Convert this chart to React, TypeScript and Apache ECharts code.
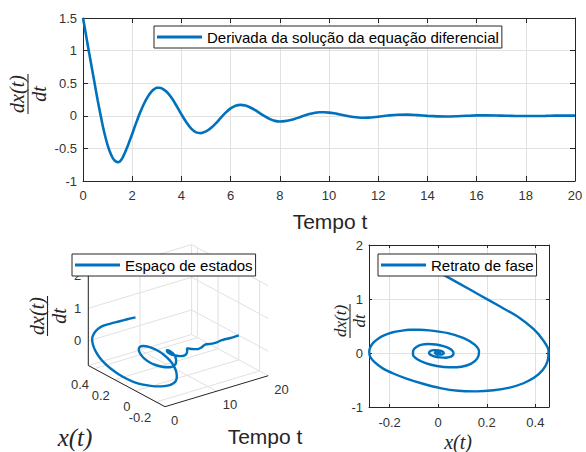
import React, { useEffect, useRef } from "react";
import * as echarts from "echarts";

// ---------------- data ----------------
const TIME = [
  0, 0.1, 0.2, 0.3, 0.4, 0.5, 0.6, 0.7, 0.8, 0.9, 1.0, 1.1, 1.2, 1.3, 1.4, 1.5,
  1.6, 1.7, 1.8, 1.9, 2.0, 2.1, 2.2, 2.3, 2.4, 2.5, 2.6, 2.7, 2.8, 2.9, 3.0, 3.1, 3.2,
  3.4, 3.6, 3.8, 4.0, 4.2, 4.4, 4.6, 4.8, 5.0, 5.2, 5.4, 5.6, 5.8, 6.0, 6.2, 6.4,
  6.6, 6.8, 7.0, 7.2, 7.4, 7.6, 7.8, 8.0, 8.2, 8.4, 8.6, 8.8, 9.0, 9.2, 9.4, 9.6,
  9.8, 10.0, 10.2, 10.4, 10.6, 10.8, 11.0, 11.2, 11.4, 11.6, 11.8, 12.0,
  12.4, 12.8, 13.2, 13.6, 14.0, 14.4, 14.8, 15.2, 15.6, 16.0, 16.4, 16.8, 17.2,
  17.6, 18.0, 18.4, 18.8, 19.2, 19.6, 20.0,
];

const DXDT = [
  1.5, 1.29, 1.07, 0.86, 0.65, 0.44, 0.23, 0.04, -0.15, -0.31, -0.45, -0.56, -0.64, -0.69, -0.71, -0.7,
  -0.65, -0.57, -0.48, -0.38, -0.28, -0.17, -0.07, 0.03, 0.12, 0.2, 0.27, 0.33, 0.38, 0.41, 0.43, 0.43, 0.42,
  0.368, 0.275, 0.154, 0.023, -0.099, -0.196, -0.254, -0.265, -0.24, -0.187, -0.115, -0.032, 0.048, 0.113, 0.155, 0.168,
  0.157, 0.128, 0.086, 0.038, -0.01, -0.051, -0.078, -0.087, -0.082, -0.069, -0.048, -0.023, 0.003, 0.027, 0.044, 0.054,
  0.054, 0.049, 0.038, 0.024, 0.009, -0.006, -0.019, -0.027, -0.03, -0.028, -0.023, -0.015,
  0.004, 0.017, 0.018, 0.01, -0.001, -0.009, -0.011, -0.007, 0.0, 0.006, 0.007, 0.005, 0.001,
  -0.003, -0.004, -0.003, -0.001, 0.002, 0.003, 0.002,
];

const XT = [
  0.0, 0.085, 0.172, 0.255, 0.335, 0.393, 0.433, 0.454, 0.45, 0.431, 0.397, 0.351, 0.294, 0.228, 0.156, 0.082,
  0.008, -0.063, -0.128, -0.185, -0.23, -0.262, -0.28, -0.284, -0.278, -0.265, -0.246, -0.221, -0.19, -0.155, -0.118, -0.078, -0.038,
  0.04, 0.105, 0.15, 0.168, 0.161, 0.136, 0.095, 0.046, -0.006, -0.052, -0.086, -0.104, -0.103, -0.09, -0.068, -0.04,
  -0.009, 0.021, 0.045, 0.059, 0.063, 0.058, 0.045, 0.029, 0.009, -0.01, -0.025, -0.035, -0.038, -0.035, -0.029, -0.02,
  -0.01, 0.002, 0.011, 0.019, 0.022, 0.023, 0.02, 0.015, 0.009, 0.002, -0.005, -0.01,
  -0.014, -0.01, -0.002, 0.006, 0.008, 0.006, 0.002, -0.003, -0.005, -0.004, -0.001, 0.001, 0.003,
  0.003, 0.001, -0.001, -0.002, -0.002, -0.001, 0.0,
];

const PHASE_X_TICKS = [-0.2, 0, 0.2, 0.4];
const T_TICKS_3D = [0, 10, 20];
const X_TICKS_3D = [-0.2, 0, 0.2, 0.4];
const Z_TICKS_3D = [0, 1, 2];

const T_LIM = [0, 20];
const X_LIM = [-0.285, 0.456];
const Z_LIM = [-0.75, 2];

const TOP_NAME = "Derivada da solução da equação diferencial";
const STATE_NAME = "Espaço de estados";
const PHASE_NAME = "Retrato de fase";

// ---------------- styles ----------------
const BLUE = "#0072BD";
const INK = "#262626";
const GRIDC = "#e1e1e1";
const LABELC = "#333333";
const SANS = '"Liberation Sans", Arial, sans-serif';
const SERIF = '"Liberation Serif", "Times New Roman", serif';

// orthographic 3D view: screen point of (tmin, xmin, zmin) and full-range axis vectors
const VIEW_ORIGIN = [165, 406.7];
const VIEW_T = [103.3, -31];
const VIEW_X = [-76.7, -41.2];
const VIEW_Z = [0, -89.9];

function project(t: number, x: number, z: number): number[] {
  const ft = (t - T_LIM[0]) / (T_LIM[1] - T_LIM[0]);
  const fx = (x - X_LIM[0]) / (X_LIM[1] - X_LIM[0]);
  const fz = (z - Z_LIM[0]) / (Z_LIM[1] - Z_LIM[0]);
  return [
    VIEW_ORIGIN[0] + ft * VIEW_T[0] + fx * VIEW_X[0] + fz * VIEW_Z[0],
    VIEW_ORIGIN[1] + ft * VIEW_T[1] + fx * VIEW_X[1] + fz * VIEW_Z[1],
  ];
}

type P3 = [number, number, number];
type Seg = { a: P3; b: P3; axis?: boolean };

function buildSegments(): Seg[] {
  const [t0, t1] = T_LIM;
  const [x0, x1] = X_LIM;
  const [z0, z1] = Z_LIM;
  const s: Seg[] = [];
  T_TICKS_3D.forEach((t) => {
    s.push({ a: [t, x0, z0], b: [t, x1, z0] });
    s.push({ a: [t, x1, z0], b: [t, x1, z1] });
  });
  [...X_TICKS_3D, x1].forEach((x) => s.push({ a: [t0, x, z0], b: [t1, x, z0] }));
  X_TICKS_3D.forEach((x) => s.push({ a: [t1, x, z0], b: [t1, x, z1] }));
  Z_TICKS_3D.forEach((z) => {
    s.push({ a: [t0, x1, z], b: [t1, x1, z] });
    s.push({ a: [t1, x0, z], b: [t1, x1, z] });
  });
  s.push({ a: [t0, x1, z0], b: [t0, x1, z1], axis: true });
  s.push({ a: [t0, x0, z0], b: [t0, x1, z0], axis: true });
  s.push({ a: [t0, x0, z0], b: [t1, x0, z0], axis: true });
  return s;
}

type Lab = { p: number[]; dx: number; dy: number; text: string; align: string };

function buildLabels(): Lab[] {
  const [t0] = T_LIM;
  const [x0, x1] = X_LIM;
  const [z0] = Z_LIM;
  return [
    ...Z_TICKS_3D.map((z) => ({ p: project(t0, x1, z), dx: -7, dy: 0, text: String(z), align: "right" })),
    ...X_TICKS_3D.map((x) => ({ p: project(t0, x, z0), dx: -5, dy: 16, text: String(x), align: "right" })),
    ...T_TICKS_3D.map((t) => ({ p: project(t, x0, z0), dx: 6, dy: 13.5, text: String(t), align: "left" })),
  ];
}

function txt(x: number, y: number, text: string, size: number, family: string, italic = false, align = "center") {
  return {
    type: "text",
    x,
    y,
    silent: true,
    style: {
      text,
      fontSize: size,
      fontFamily: family,
      fontStyle: italic ? "italic" : "normal",
      fill: INK,
      align,
      verticalAlign: "middle",
      textAlign: align,
      textVerticalAlign: "middle",
    },
  };
}

function fraction(cx: number, cy: number, size: number) {
  const off = size * 0.55;
  const bar = size * 2;
  return {
    type: "group",
    x: cx,
    y: cy,
    rotation: Math.PI / 2,
    silent: true,
    children: [
      txt(0, -off, "dx(t)", size, SERIF, true),
      { type: "line", shape: { x1: -bar / 2, y1: 0, x2: bar / 2, y2: 0 }, style: { stroke: INK, lineWidth: 1.1 } },
      txt(0, off, "dt", size, SERIF, true),
    ],
  };
}

function legendCfg(name: string, left: number, top: number) {
  return {
    data: [name],
    left,
    top,
    orient: "horizontal",
    icon: "rect",
    itemWidth: 45,
    itemHeight: 3,
    padding: [3, 3, 3, 3],
    backgroundColor: "#fff",
    borderColor: INK,
    borderWidth: 1,
    borderRadius: 0,
    selectedMode: false,
    textStyle: { fontSize: 15, color: "#000", fontFamily: SANS, lineHeight: 16 },
  };
}

function buildOption() {
  const SEGS = buildSegments();
  const LABELS = buildLabels();
  const axisLine = { show: true, onZero: false, lineStyle: { color: INK, width: 1 } };
  const lbl = { color: LABELC, fontSize: 13, fontFamily: SANS };
  const split = { show: true, lineStyle: { color: GRIDC, width: 1 } };

  return {
    animation: false,
    backgroundColor: "#fff",
    grid: [
      { left: 83, top: 18, width: 492, height: 163 },
      { left: 369, top: 245, width: 180, height: 162 },
      { left: 0, top: 0, width: 586, height: 452 },
    ],
    legend: [
      legendCfg(TOP_NAME, 154, 26),
      legendCfg(STATE_NAME, 72, 254),
      legendCfg(PHASE_NAME, 378, 254),
    ],
    xAxis: [
      {
        gridIndex: 0, type: "value", min: 0, max: 20, interval: 2, position: "bottom",
        axisLine, axisTick: { show: true, inside: true, length: 5, lineStyle: { color: INK } },
        axisLabel: { ...lbl, margin: 8 }, splitLine: split,
      },
      {
        gridIndex: 0, type: "value", min: 0, max: 20, interval: 2, position: "top",
        axisLine, axisTick: { show: true, inside: true, length: 5, lineStyle: { color: INK } },
        axisLabel: { show: false }, splitLine: { show: false },
      },
      {
        gridIndex: 1, type: "value", min: X_LIM[0], max: X_LIM[1], position: "bottom",
        axisLine, axisTick: { show: true, inside: true, length: 3, customValues: PHASE_X_TICKS, lineStyle: { color: INK } },
        axisLabel: { ...lbl, margin: 9, customValues: PHASE_X_TICKS }, splitLine: split,
      },
      {
        gridIndex: 1, type: "value", min: X_LIM[0], max: X_LIM[1], position: "top",
        axisLine, axisTick: { show: true, inside: true, length: 3, customValues: PHASE_X_TICKS, lineStyle: { color: INK } },
        axisLabel: { show: false, customValues: PHASE_X_TICKS }, splitLine: { show: false },
      },
      { gridIndex: 2, type: "value", min: 0, max: 586, show: false },
    ],
    yAxis: [
      {
        gridIndex: 0, type: "value", min: -1, max: 1.5, interval: 0.5, position: "left",
        axisLine, axisTick: { show: true, inside: true, length: 5, lineStyle: { color: INK } },
        axisLabel: { ...lbl, margin: 6 }, splitLine: split,
      },
      {
        gridIndex: 0, type: "value", min: -1, max: 1.5, interval: 0.5, position: "right",
        axisLine, axisTick: { show: true, inside: true, length: 5, lineStyle: { color: INK } },
        axisLabel: { show: false }, splitLine: { show: false },
      },
      {
        gridIndex: 1, type: "value", min: -1, max: 2, interval: 1, position: "left",
        axisLine, axisTick: { show: true, inside: true, length: 3, lineStyle: { color: INK } },
        axisLabel: { ...lbl, margin: 6 }, splitLine: split,
      },
      {
        gridIndex: 1, type: "value", min: -1, max: 2, interval: 1, position: "right",
        axisLine, axisTick: { show: true, inside: true, length: 3, lineStyle: { color: INK } },
        axisLabel: { show: false }, splitLine: { show: false },
      },
      { gridIndex: 2, type: "value", min: 0, max: 452, inverse: true, show: false },
    ],
    series: [
      {
        name: TOP_NAME, type: "line", xAxisIndex: 0, yAxisIndex: 0,
        data: TIME.map((t, i) => [t, DXDT[i]]),
        symbol: "none", smooth: 0.3,
        lineStyle: { color: BLUE, width: 2.6 }, itemStyle: { color: BLUE }, z: 3,
      },
      {
        name: PHASE_NAME, type: "line", xAxisIndex: 2, yAxisIndex: 2,
        data: XT.map((x, i) => [x, DXDT[i]]),
        symbol: "none", smooth: 0.3,
        lineStyle: { color: BLUE, width: 2.4 }, itemStyle: { color: BLUE }, z: 3,
      },
      {
        name: "grid3d", type: "custom", xAxisIndex: 4, yAxisIndex: 4, silent: true, z: 1,
        data: SEGS.map((_, i) => [i, 0]),
        renderItem: (params: any, api: any) => {
          const s = SEGS[params.dataIndex];
          const p1 = api.coord(project(s.a[0], s.a[1], s.a[2]));
          const p2 = api.coord(project(s.b[0], s.b[1], s.b[2]));
          return {
            type: "line",
            shape: { x1: p1[0], y1: p1[1], x2: p2[0], y2: p2[1] },
            style: { stroke: s.axis ? INK : GRIDC, lineWidth: 1 },
          };
        },
      },
      {
        name: STATE_NAME, type: "line", xAxisIndex: 4, yAxisIndex: 4,
        data: TIME.map((t, i) => project(t, XT[i], DXDT[i])),
        symbol: "none", smooth: 0.3,
        lineStyle: { color: BLUE, width: 2.4 }, itemStyle: { color: BLUE }, z: 3,
      },
      {
        name: "labels3d", type: "custom", xAxisIndex: 4, yAxisIndex: 4, silent: true, z: 2,
        data: LABELS.map((_, i) => [i, 0]),
        renderItem: (params: any, api: any) => {
          const l = LABELS[params.dataIndex];
          const p = api.coord(l.p);
          return {
            type: "text",
            x: p[0] + l.dx,
            y: p[1] + l.dy,
            style: {
              text: l.text, fill: LABELC, fontSize: 13, fontFamily: SANS,
              align: l.align, verticalAlign: "middle", textAlign: l.align, textVerticalAlign: "middle",
            },
          };
        },
      },
    ],
    graphic: {
      elements: [
        txt(330, 221, "Tempo t", 21, SANS),
        txt(265, 436, "Tempo t", 21, SANS),
        txt(75, 437, "x(t)", 25, SERIF, true),
        txt(458, 442, "x(t)", 20, SERIF, true),
        fraction(28, 94, 20),
        fraction(47.5, 316, 20),
        fraction(350, 321, 17),
      ],
    },
  };
}

export default function App() {
  const ref = useRef<HTMLDivElement>(null);
  useEffect(() => {
    const chart = echarts.init(ref.current as HTMLDivElement, null, { renderer: "svg" });
    chart.setOption(buildOption() as any);
    return () => chart.dispose();
  }, []);
  return (
    <div
      ref={ref}
      style={{ position: "fixed", left: 0, top: 0, width: 586, height: 452, background: "#fff" }}
    />
  );
}
